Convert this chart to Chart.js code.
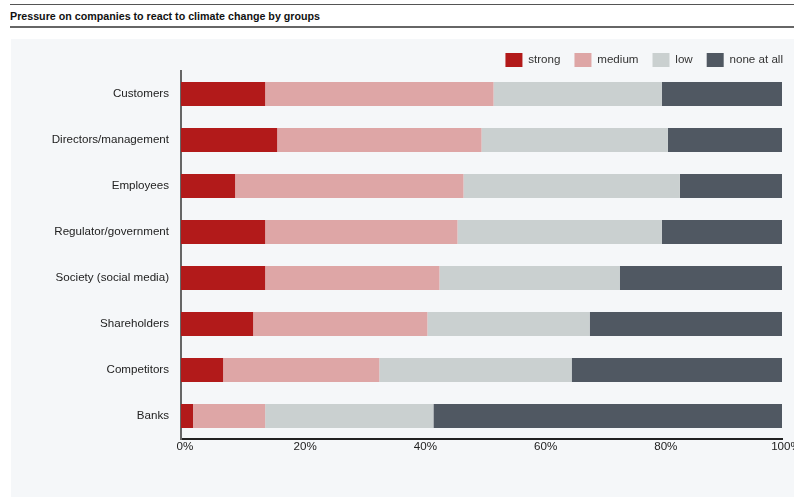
<!DOCTYPE html>
<html>
<head>
<meta charset="utf-8">
<script src="https://cdn.jsdelivr.net/npm/chart.js@4"></script>
<style>
  html, body { margin: 0; padding: 0; background: #fff; }
  body { width: 794px; height: 497px; position: relative; overflow: hidden; font-family: Arial, "Liberation Sans", sans-serif; }
  #title {
    position: absolute; left: 10px; top: 4px; width: 784px; height: 21px;
    border-top: 1px solid #555; border-bottom: 2px solid #666;
    font-size: 10.7px; font-weight: bold; color: #111; line-height: 22px; box-sizing: content-box;
  }
  #panel { position: absolute; left: 11px; top: 39px; width: 783px; height: 458px; background: #f5f7f9; overflow: hidden; }
  #chart { position: absolute; left: 0; top: 0; }
</style>
</head>
<body>
<div id="title">Pressure on companies to react to climate change by groups</div>
<div id="panel"><canvas id="chart" width="786" height="458" style="width:786px;height:458px"></canvas></div>
<script>
const groups = ["Customers", "Directors/management", "Employees", "Regulator/government",
  "Society (social media)", "Shareholders", "Competitors", "Banks"];
const strong = [14, 16, 9, 14, 14, 12, 7, 2];
const medium = [38, 34, 38, 32, 29, 29, 26, 12];
const low = [28, 31, 36, 34, 30, 27, 32, 28];
const noneAtAll = [20, 19, 17, 20, 27, 32, 35, 58];
const xTicks = [0, 20, 40, 60, 80, 100];

const font = { family: "Arial, 'Liberation Sans', sans-serif", size: 11.6 };

document.addEventListener("DOMContentLoaded", () => {
  const ctx = document.getElementById("chart").getContext("2d");

  const bar = (label, data, color) => ({
    label: label,
    data: data,
    backgroundColor: color,
    borderWidth: 0,
    barPercentage: 0.523,
    categoryPercentage: 1
  });

  new Chart(ctx, {
    type: "bar",
    data: {
      labels: groups,
      datasets: [
        bar("strong", strong, "#b21a1a"),
        bar("medium", medium, "#dea6a6"),
        bar("low", low, "#cad0d0"),
        bar("none at all", noneAtAll, "#505862")
      ]
    },
    options: {
      indexAxis: "y",
      responsive: false,
      animation: false,
      layout: { padding: { left: 0, right: 0, top: 0, bottom: 38 } },
      plugins: {
        legend: {
          position: "top",
          align: "end",
          maxHeight: 32,
          labels: { boxWidth: 17, boxHeight: 14, padding: 14, color: "#333", font: font }
        },
        tooltip: { enabled: false }
      },
      scales: {
        x: {
          stacked: true,
          min: 0,
          max: 100,
          afterBuildTicks: (scale) => { scale.ticks = xTicks.map(v => ({ value: v })); },
          afterFit: (scale) => { scale.paddingLeft = 0; scale.paddingRight = 15; scale.height = 20; },
          grid: { display: false, drawTicks: false },
          border: { display: true, color: "#222", width: 2 },
          ticks: { padding: 1, labelOffset: 4, color: "#222", font: font, callback: (v) => v + "%" }
        },
        y: {
          stacked: true,
          afterFit: (scale) => { scale.width = 170; },
          grid: { display: false, drawTicks: false },
          border: { display: true, color: "#666", width: 2 },
          ticks: { padding: 12, color: "#222", font: font }
        }
      }
    }
  });
});
</script>
</body>
</html>
